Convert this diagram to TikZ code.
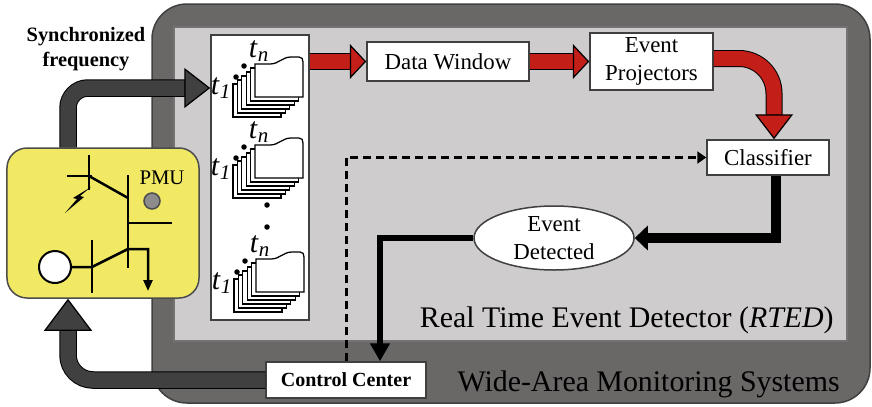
\documentclass[tikz,border=0pt]{standalone}
\usepackage{fontspec}
\setmainfont{Liberation Serif}
\usepackage{tikz}
\usetikzlibrary{shapes,arrows.meta,positioning,calc}

\definecolor{wamsgray}{RGB}{106,103,103}
\definecolor{rtedgray}{RGB}{206,204,205}
\definecolor{pmuyellow}{RGB}{241,233,100}
\definecolor{flowred}{RGB}{196,30,24}
\definecolor{feedgray}{RGB}{64,64,64}

% one stack of measurement windows, #2,#3 = lower left of the front sheet
\newcommand{\pagestack}[3]{%
  \foreach \k in {5,4,...,1}
    \draw[page] (#2-4.4*\k,#3+4*\k) rectangle ++(48,-33);
  \draw[page] (#2,#3) -- (#2,#3-33) -- (#2+15,#3-33)
    .. controls (#2+24,#3-33) and (#2+27,#3-40) .. (#2+36,#3-40)
    -- (#2+44,#3-40) .. controls (#2+47,#3-40) and (#2+48,#3-38) .. (#2+48,#3-35)
    -- (#2+48,#3) -- cycle;
  \fill (#2-19,#3-20) circle (0.55mm);
  \fill (#2-11,#3-31) circle (0.55mm);
  \node[tlabel] (#1-t1) at (#2-34,#3-9) {\textit{t}\textsubscript{\textit{1}}};
  \node[tlabel] (#1-tn) at (#2+4,#3-46) {\textit{t}\textsubscript{\textit{n}}};
}

\begin{document}
\begin{tikzpicture}[x=0.2mm,y=-0.2mm]
\tikzstyle{block}=[rectangle, draw=black!75, fill=white, line width=0.3mm, inner sep=0pt, align=center, font=\fontsize{13}{15.8}\selectfont]
\tikzstyle{page}=[draw=black, fill=white, line width=0.25mm]
\tikzstyle{tlabel}=[inner sep=0pt, font=\fontsize{17}{19}\selectfont]
\tikzstyle{caption}=[anchor=east, inner sep=0pt, font=\fontsize{17}{19}\selectfont]
\tikzstyle{redflow}=[draw=flowred, line width=3mm, preaction={draw=black, line width=3.4mm, -, shorten >=2.6mm}, -{Triangle[length=3.3mm, width=7mm, fill=flowred, color=black, line width=0.25mm]}]
\tikzstyle{grayflow}=[draw=feedgray, line width=3.1mm, preaction={draw=black, line width=3.5mm, -, shorten >=3mm}, -{Triangle[length=5.2mm, width=8mm, fill=feedgray, color=black, line width=0.25mm]}]

\useasboundingbox (0,0) rectangle (872,406);

\draw[draw=black!75, fill=wamsgray, rounded corners=7mm, line width=0.3mm] (152,4) rectangle (870,403);
\draw[draw=black!55, fill=rtedgray, line width=0.3mm] (174,27) rectangle (847,341);

\node[block, minimum width=38.4mm, minimum height=30mm, rounded corners=4mm, fill=pmuyellow, draw=black!70] (pmu) at (103,223) {};
\node[block, minimum width=19.6mm, minimum height=57mm] (panel) at (260,177.5) {};
\node[block, minimum width=32.4mm, minimum height=7.8mm] (dw) at (448,61.5) {Data Window};
\node[block, minimum width=24.6mm, minimum height=11.4mm] (ep) at (651.5,61.5) {Event\\Projectors};
\node[block, minimum width=24.4mm, minimum height=7mm] (cls) at (768,157.5) {Classifier};
\node[block, ellipse, minimum width=32mm, minimum height=12.8mm] (det) at (554,238) {Event\\Detected};
\node[block, minimum width=32mm, minimum height=7.2mm, font=\bfseries\fontsize{11.4}{13}\selectfont] (cc) at (346,380) {Control Center};

\node[font=\bfseries\fontsize{11.6}{14.2}\selectfont, align=center] (sync) at (86,49) {Synchronized\\frequency};
\node[font=\fontsize{11.8}{13}\selectfont] (pmulabel) at (162,178) {PMU};
\node[caption] (rted) at (834,320) {Real Time Event Detector (\textit{RTED})};
\node[caption] (wams) at (840,384) {Wide-Area Monitoring Systems};

% substation one-line inside the PMU box
\begin{scope}[line width=0.5mm]
\draw (67,176) -- (92,176);
\draw (89,155) -- (89,190);
\draw (89,176) -- (128,198);
\draw (128,175) -- (128,268);
\draw (128,223) -- (172,223);
\draw (92,240) -- (92,293);
\draw[-{Triangle[length=2.2mm, width=1.8mm]}] (71,267) -- (92,267) -- (128,249) -- (148,249) -- (148,291);
\end{scope}
\fill (91,187) -- (80,196) -- (84,197) -- (65,213) -- (77,199) -- (73,198) -- cycle;
\draw[line width=0.4mm, fill=white] (55,267) circle (3.2mm);
\draw[fill=gray!90, draw=black!70, line width=0.3mm] (152,201) circle (1.6mm);

\pagestack{s1}{255}{97}
\pagestack{s2}{255}{178}
\pagestack{s3}{256}{292}
\fill (267,205) circle (0.55mm);
\fill (267,227) circle (0.55mm);

\coordinate (sbend) at (68,88);
\draw[grayflow, rounded corners=4mm] (pmu.north -| sbend) -- (sbend) -- (sbend -| panel.west);
\draw[grayflow, rounded corners=5mm, -{Triangle[length=6.4mm, width=9.6mm, fill=feedgray, color=black, line width=0.25mm]}] (cc.west) -| ($(pmu.south)+(-35,0)$);

\draw[redflow] (panel.east |- dw) -- (dw.west);
\draw[redflow] (dw.east) -- (ep.west);
\draw[redflow, rounded corners=7mm, -{Triangle[length=5mm, width=7.6mm, fill=flowred, color=black, line width=0.25mm]}] ($(ep.east)+(0,-3)$) -| ($(cls.north)+(6,0)$);

\draw[line width=2mm, -{Triangle[length=2.6mm, width=4.8mm]}] ($(cls.south)+(8,0)$) |- (det.east);
\draw[line width=1.2mm, -{Triangle[length=3.6mm, width=3.8mm]}] (det.west) -| ($(cc.north)+(34,0)$);
\draw[line width=0.6mm, dash pattern=on 1.6mm off 1mm, -{Triangle[length=1.8mm, width=2.4mm]}] (cc.north) |- (cls.west);
\end{tikzpicture}
\end{document}
